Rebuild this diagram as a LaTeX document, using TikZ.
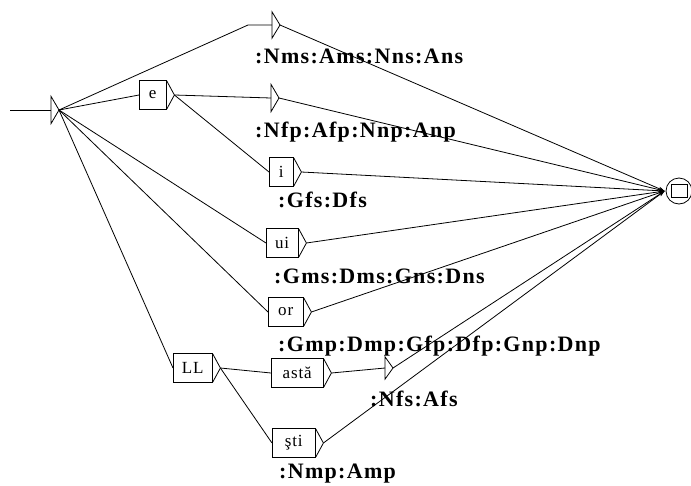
\documentclass[tikz,border=0pt]{standalone}
\usepackage{fontspec}
\usepackage{tikz}
\usetikzlibrary{positioning, calc, arrows.meta}
\setmainfont{Liberation Serif}
\newfontfamily\boxfont[LetterSpace=5]{Liberation Serif}
\newfontfamily\outfont[LetterSpace=6]{Liberation Serif}
\tikzset{
    tbox/.style={
        draw, rectangle, minimum height=29, inner xsep=7pt, inner ysep=0pt,
        anchor=west, font=\boxfont\fontsize{17}{17}\selectfont
    },
    ebox/.style={
        minimum width=0pt, minimum height=26, inner sep=0pt
    },
    outlbl/.style={
        anchor=base west, inner sep=0pt,
        font=\outfont\bfseries\fontsize{22}{22}\selectfont
    },
    trans/.style={
        line width=0.8pt
    },
    toend/.style={
        line width=0.8pt, -{Stealth[length=6pt, width=4pt]}
    }
}
% triangle on the right of a box, apex named <box>-o
\newcommand{\boxtip}[1]{%
    \draw[trans] (#1.north east) -- ($(#1.east)+(8,0)$) coordinate (#1-o) -- (#1.south east);}
\newcommand{\emptytip}[1]{%
    \draw[trans] (#1.north) -- ($(#1.center)+(8,0)$) coordinate (#1-o) -- (#1.south) -- cycle;}

\begin{document}
\begin{tikzpicture}[x=1pt, y=-1pt]
    \useasboundingbox (0,0) rectangle (691,485);

    % --- 1. STATES ---
    \node[ebox, minimum height=27] (init) at (51,110) {};
    \node[ebox] (nms) at (272,25) {};
    \node[tbox, minimum width=27] (e) at (139,95) {e};
    \node[ebox, minimum height=27] (nfp) at (271,98) {};
    \node[tbox, minimum width=24] (i) at (269,172) {i};
    \node[tbox, minimum width=32] (ui) at (266,243) {ui};
    \node[tbox, minimum width=35] (or) at (268,312) {or};
    \node[tbox, minimum width=39] (LL) at (173,368) {LL};
    \node[tbox, minimum width=52] (asta) at (271,373) {astă};
    \node[ebox, minimum height=22] (nfs) at (385,368) {};
    \node[tbox, minimum width=43] (sti) at (272,443) {şti};
    \node[circle, draw, line width=0.8pt, minimum size=26, inner sep=0pt] (fin) at (679,191) {};
    \node[draw, line width=0.8pt, minimum width=16, minimum height=13, inner sep=0pt] (finbox) at (fin.center) {};

    \emptytip{init}
    \emptytip{nms}
    \emptytip{nfp}
    \emptytip{nfs}
    \boxtip{e}
    \boxtip{i}
    \boxtip{ui}
    \boxtip{or}
    \boxtip{LL}
    \boxtip{asta}
    \boxtip{sti}

    % --- 2. OUTPUTS ---
    \node[outlbl] (lnms) at (255,63) {:Nms:Ams:Nns:Ans};
    \node[outlbl] (lnfp) at (255,137) {:Nfp:Afp:Nnp:Anp};
    \node[outlbl] (lgfs) at (278,207) {:Gfs:Dfs};
    \node[outlbl] (lgms) at (274,283) {:Gms:Dms:Gns:Dns};
    \node[outlbl] (lgmp) at (278,351) {:Gmp:Dmp:Gfp:Dfp:Gnp:Dnp};
    \node[outlbl] (lnfs) at (370,406) {:Nfs:Afs};
    \node[outlbl] (lnmp) at (279,478) {:Nmp:Amp};

    % --- 3. TRANSITIONS ---
    \coordinate (start) at (10,110);
    \coordinate (knee) at (248,25);
    \coordinate (endpt) at ($(fin.west)+(-1,0)$);
    \draw[trans] (start) -- (init.center);
    \draw[trans] (init-o) -- (knee) -- (nms.center);
    \draw[trans] (init-o) -- (e.west);
    \draw[trans] (init-o) -- (ui.west);
    \draw[trans] (init-o) -- (or.west);
    \draw[trans] (init-o) -- (LL.west);
    \draw[trans] (e-o) -- (nfp.center);
    \draw[trans] (e-o) -- (i.west);
    \draw[trans] (LL-o) -- (asta.west);
    \draw[trans] (LL-o) -- (sti.west);
    \draw[trans] (asta-o) -- (nfs.center);

    \foreach \s in {nms, nfp, i, ui, or, nfs, sti}
        \draw[toend] (\s-o) -- (endpt);

\end{tikzpicture}
\end{document}
